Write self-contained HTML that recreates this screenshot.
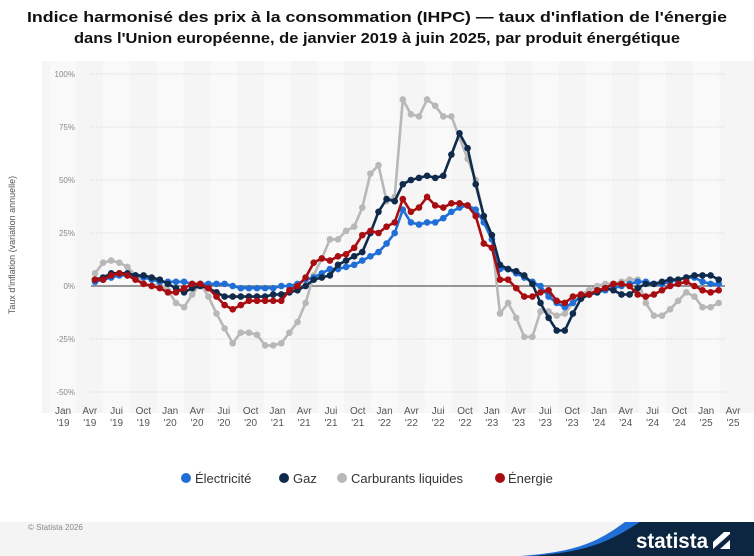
<!DOCTYPE html>
<html><head><meta charset="utf-8">
<style>
html,body{margin:0;padding:0;background:#fff;}
svg{display:block;font-family:"Liberation Sans",sans-serif;}
</style></head>
<body>
<svg id="c" width="754" height="556" viewBox="0 0 754 556" xmlns="http://www.w3.org/2000/svg">
<text x="377" y="22" text-anchor="middle" font-size="15" font-weight="bold" fill="#111" textLength="700" lengthAdjust="spacingAndGlyphs">Indice harmonisé des prix à la consommation (IHPC) — taux d'inflation de l'énergie</text>
<text x="377" y="43" text-anchor="middle" font-size="15" font-weight="bold" fill="#111" textLength="606" lengthAdjust="spacingAndGlyphs">dans l'Union européenne, de janvier 2019 à juin 2025, par produit énergétique</text>
<rect x="42" y="61" width="712" height="352" fill="#f5f5f5"/>
<g id="bands"></g>
<g id="grid"></g>
<text transform="translate(15,245) rotate(-90)" text-anchor="middle" font-size="9" fill="#555">Taux d'inflation (variation annuelle)</text>
<g id="series"></g>
<g font-size="13" fill="#333">
<circle cx="186" cy="478" r="5" fill="#1f6fd6"/><text x="195" y="483">Électricité</text>
<circle cx="284" cy="478" r="5" fill="#0f2a4a"/><text x="293" y="483">Gaz</text>
<circle cx="342" cy="478" r="5" fill="#b8b8b8"/><text x="351" y="483">Carburants liquides</text>
<circle cx="500" cy="478" r="5" fill="#a80d12"/><text x="508" y="483">Énergie</text>
</g>
<rect x="0" y="522" width="754" height="34" fill="#f4f4f4"/>
<text x="28" y="530" font-size="8" fill="#888">© Statista 2026</text>
<path d="M520 556 C580 552 600 540 625 522 L754 522 L754 556 Z" fill="#1f6fd6"/>
<path d="M532 556 C590 552 612 540 640 522 L754 522 L754 556 Z" fill="#0c2540"/>
<text x="636" y="548" font-size="21" font-weight="bold" fill="#fff" textLength="72" lengthAdjust="spacingAndGlyphs">statista</text>
<rect x="713" y="532" width="17" height="17" fill="#fff"/>
<path d="M713 549 L730 534 L730 540 L720 549 Z M713 532 L724 532 L713 542 Z" fill="#0c2540"/>
</svg>
<script>
var NS="http://www.w3.org/2000/svg";
function el(p,t,a){var e=document.createElementNS(NS,t);for(var k in a)e.setAttribute(k,a[k]);p.appendChild(e);return e;}
var bands=document.getElementById('bands'),grid=document.getElementById('grid'),ser=document.getElementById('series');
var svg=document.getElementById('c');
function Y(v){return 286-v*2.12;}
var qs=['Jan','Avr','Jui','Oct'];
for(var q=0;q<=25;q++){
  var cx=63+q*26.8;
  if(q%2==0) el(bands,'rect',{x:cx-13.4,y:61,width:26.8,height:352,fill:'#f9f9f9'});
  var yr=19+Math.floor(q/4);
  var t1=el(svg,'text',{x:cx,y:414,'text-anchor':'middle','font-size':'10',fill:'#555'});t1.textContent=qs[q%4];
  var t2=el(svg,'text',{x:cx,y:426,'text-anchor':'middle','font-size':'10',fill:'#555'});t2.textContent="'"+yr;
}
[100,75,50,25,0,-25,-50].forEach(function(v){
  var y=Y(v);
  if(v!==0) el(grid,'line',{x1:91,x2:725,y1:y,y2:y,stroke:'#c8c8c8','stroke-width':'0.8','stroke-dasharray':'1,1.5'});
  var t=el(grid,'text',{x:75,y:y+3,'text-anchor':'end','font-size':'8',fill:'#888'});t.textContent=v+'%';
});
el(grid,'line',{x1:91,x2:725,y1:286,y2:286,stroke:'#333','stroke-width':'1'});
var gas=[3,4,6,6,6,5,5,4,3,1,-1,-3,-1,0,-1,-3,-5,-5,-5,-5,-5,-5,-4,-4,-3,-2,0,3,4,5,10,12,14,16,25,35,41,40,48,50,51,52,51,52,62,72,65,48,33,24,10,8,7,5,1,-8,-15,-21,-21,-13,-6,-4,-3,-1,-2,-4,-4,-1,1,1,2,3,3,4,5,5,5,3];
var ele=[2,3,4,5,5,5,4,3,2,2,2,2,1,1,1,1,1,0,-1,-1,-1,-1,-1,0,0,1,3,4,6,8,8,9,10,12,14,16,20,25,36,30,29,30,30,32,35,37,38,36,30,22,8,8,6,4,2,0,-5,-8,-10,-8,-5,-4,-3,-2,-1,0,1,2,2,1,1,2,3,4,4,2,1,1];
var fuel=[6,11,12,11,9,5,1,0,1,-2,-8,-10,-4,1,-5,-13,-20,-27,-22,-22,-23,-28,-28,-27,-22,-17,-8,5,13,22,22,26,28,37,53,57,40,42,88,81,80,88,85,80,80,70,60,50,33,22,-13,-8,-15,-24,-24,-12,-12,-14,-13,-8,-4,-2,0,1,1,2,3,3,-8,-14,-14,-11,-7,-3,-5,-10,-10,-8];
var en=[3,3,5,6,5,3,1,0,-1,-3,-3,-1,1,1,-1,-5,-9,-11,-9,-7,-7,-7,-7,-7,-2,0,4,11,13,12,14,15,18,24,26,25,28,30,41,35,37,42,38,37,39,39,38,33,20,18,3,3,-1,-5,-5,-3,-2,-7,-8,-5,-4,-4,-2,-1,1,1,0,-4,-5,-4,-2,0,1,2,0,-2,-3,-2];
function draw(d,col){
  var pts=d.map(function(v,i){return (95+i*8.1).toFixed(1)+','+Y(v).toFixed(1);});
  el(ser,'polyline',{points:pts.join(' '),fill:'none',stroke:col,'stroke-width':'2.6','stroke-linejoin':'round'});
  d.forEach(function(v,i){el(ser,'circle',{cx:95+i*8.1,cy:Y(v),r:3.3,fill:col});});
}
draw(fuel,'#b8b8b8');draw(ele,'#1f6fd6');draw(gas,'#0f2a4a');draw(en,'#a80d12');
</script>
</body></html>
